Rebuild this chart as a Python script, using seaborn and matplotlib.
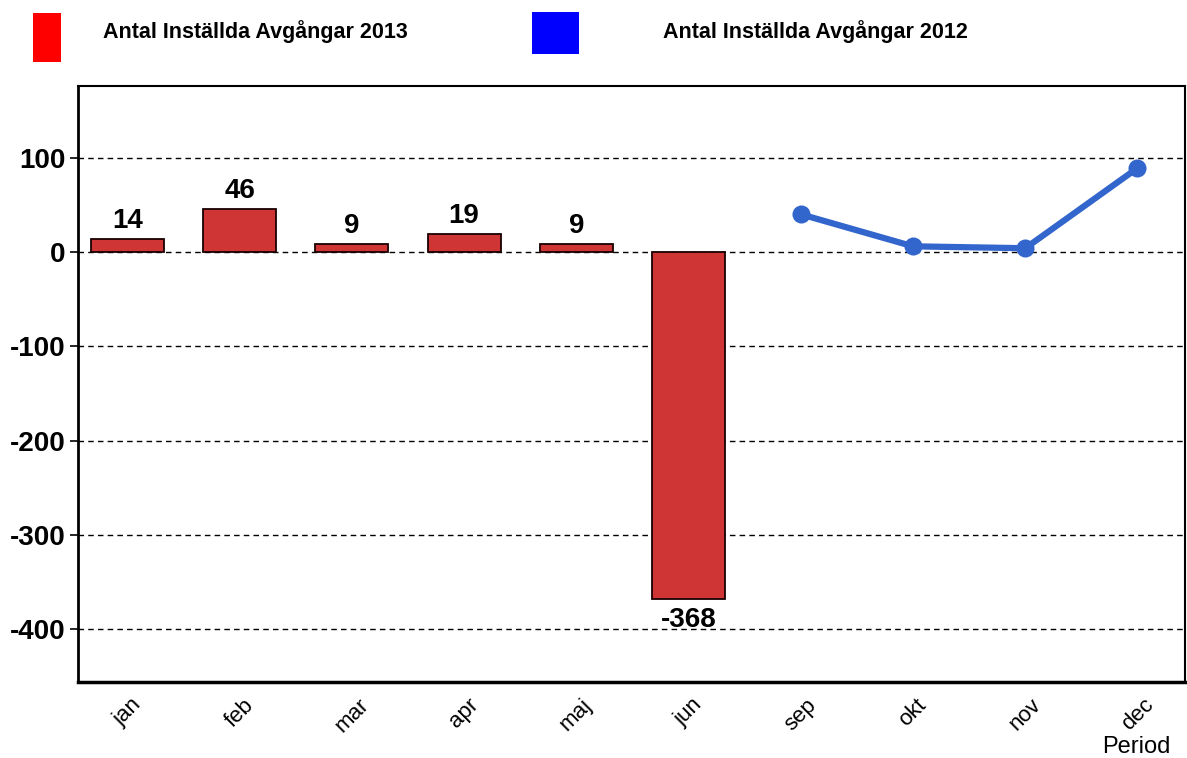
import matplotlib
matplotlib.use("Agg")
import matplotlib.pyplot as plt
from matplotlib.patches import Rectangle
import seaborn as sns
import pandas as pd
import numpy as np

months = ["jan", "feb", "mar", "apr", "maj", "jun", "sep", "okt", "nov", "dec"]
bar_months = ["jan", "feb", "mar", "apr", "maj", "jun"]
bar_values = [14, 46, 9, 19, 9, -368]
line_months = ["sep", "okt", "nov", "dec"]
line_values = [40, 6, 4, 89]
yticks = [-400, -300, -200, -100, 0, 100]
label_2013 = "Antal Inställda Avgångar 2013"
label_2012 = "Antal Inställda Avgångar 2012"

sns.set_theme(style="white")
plt.rcParams["font.family"] = ["Liberation Sans", "DejaVu Sans"]
plt.rcParams["text.color"] = "black"
plt.rcParams["xtick.color"] = "black"
plt.rcParams["ytick.color"] = "black"

fig = plt.figure(figsize=(11.87, 7.58), dpi=100)
ax = fig.add_axes([0.0657, 0.1003, 0.9323, 0.7862])

bar_df = pd.DataFrame({"month": bar_months, "value": bar_values})
sns.barplot(data=bar_df, x="month", y="value", order=months, color="#D03535",
            saturation=1, width=0.65, edgecolor="#1a0000", linewidth=1.3, ax=ax, zorder=2)

line_df = pd.DataFrame({"pos": [months.index(m) for m in line_months], "value": line_values})
sns.lineplot(data=line_df, x="pos", y="value", color="#3366CC", linewidth=4.5,
             marker="o", markersize=13, markeredgewidth=0, ax=ax, zorder=3)

for m, v in zip(bar_months, bar_values):
    x = months.index(m)
    if v >= 0:
        ax.text(x, v + 5, str(v), ha="center", va="bottom", fontsize=20, fontweight="bold", color="black")
    else:
        ax.text(x, v - 8, str(v), ha="center", va="top", fontsize=20, fontweight="bold", color="black")

ax.set_xlim(-0.44, 9.42)
ax.set_ylim(-456, 176)
ax.set_yticks(yticks)
ax.set_yticklabels([str(t) for t in yticks], fontsize=20, fontweight="bold", color="black")
ax.set_xticks(range(len(months)))
ax.set_xticklabels(months, rotation=45, fontsize=16, ha="center", color="black")
ax.tick_params(axis="x", length=0, pad=9)
ax.tick_params(axis="y", length=6, width=1.2, color="black", direction="out", left=True, pad=3)
for t in yticks:
    ax.axhline(t, color="black", linestyle=(0, (4, 3)), linewidth=1.0, zorder=0.5)
ax.set_xlabel("")
ax.set_ylabel("")

for s in ["top", "right"]:
    ax.spines[s].set_color("black")
    ax.spines[s].set_linewidth(1.5)
ax.spines["left"].set_color("black")
ax.spines["left"].set_linewidth(2)
ax.spines["bottom"].set_color("black")
ax.spines["bottom"].set_linewidth(2.5)

fig.text(0.986, 0.0, "Period", ha="right", va="bottom", fontsize=17, color="black")

fig.patches.append(Rectangle((0.0278, 0.918), 0.0236, 0.0646, transform=fig.transFigure,
                             facecolor="#FF0000", edgecolor="none"))
fig.patches.append(Rectangle((0.4482, 0.9288), 0.0396, 0.0554, transform=fig.transFigure,
                             facecolor="#0000FF", edgecolor="none"))
fig.text(0.0868, 0.959, label_2013, ha="left", va="center", fontsize=15.5, fontweight="bold", color="black")
fig.text(0.5586, 0.959, label_2012, ha="left", va="center", fontsize=15.5, fontweight="bold", color="black")

fig.savefig("out.png", dpi=100, facecolor="white")
